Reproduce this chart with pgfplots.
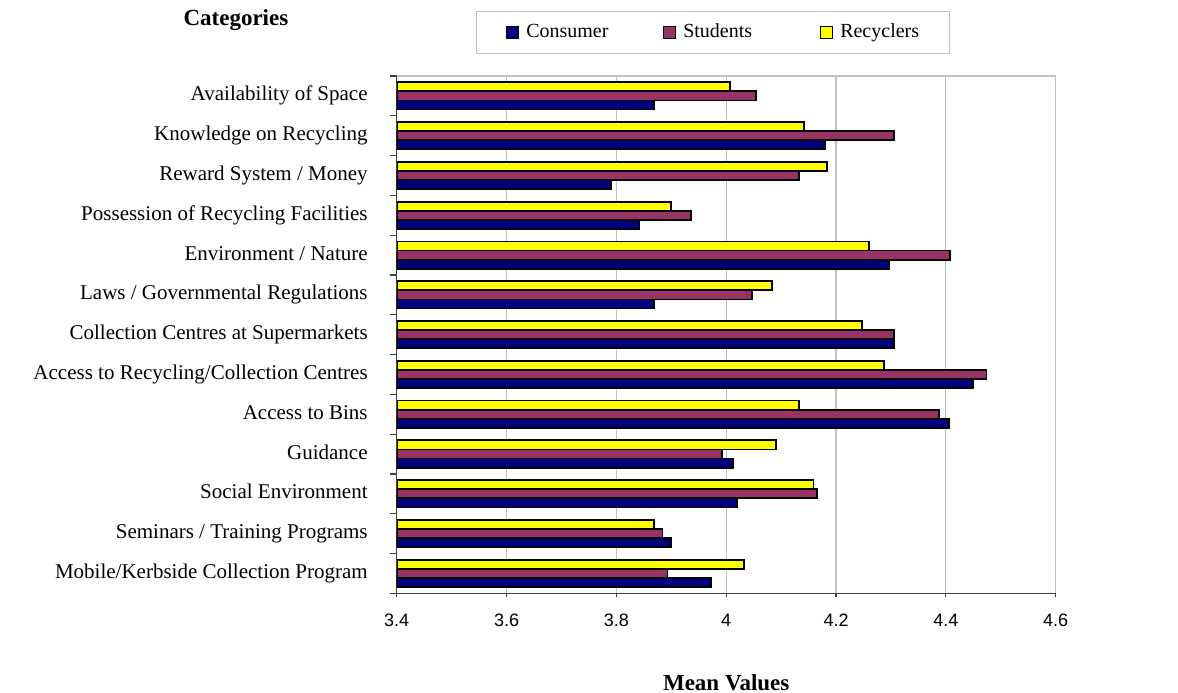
\documentclass[border=0pt]{standalone}
\usepackage{fontspec}
\setmainfont{Liberation Serif}
\newfontfamily\arial{Liberation Sans}
\usepackage{pgfplots}
\usepackage{pgfplotstable}
\pgfplotsset{compat=1.18}

\definecolor{consumer}{HTML}{000080}
\definecolor{students}{HTML}{993366}
\definecolor{recyclers}{HTML}{FFFF00}
\definecolor{gridgray}{HTML}{C0C0C0}
\definecolor{axisgray}{HTML}{404040}

% y = 0 is the bottom category (Mobile/Kerbside), 12 the top one
\pgfplotstableread{
y   con    stu    rec
0   3.972  3.893  4.032
1   3.899  3.884  3.869
2   4.020  4.165  4.159
3   4.012  3.993  4.090
4   4.405  4.387  4.132
5   4.450  4.474  4.287
6   4.305  4.305  4.247
7   3.869  4.047  4.084
8   4.296  4.407  4.260
9   3.842  3.936  3.899
10  3.790  4.132  4.183
11  4.180  4.305  4.141
12  3.869  4.054  4.007
}\motiv

\begin{document}
\begin{tikzpicture}
\path[use as bounding box] (0,0) rectangle (589pt,346pt);
\begin{axis}[
  at={(198.35pt,49.35pt)}, anchor=south west,
  scale only axis, width=329.5pt, height=258.65pt,
  xbar, bar width=0.2286,
  xmin=3.4, xmax=4.6, ymin=-0.5, ymax=12.5,
  xtick={3.4,3.6,3.8,4.0,4.2,4.4,4.6},
  /pgf/number format/assume math mode=true,
  xticklabel style={font=\arial\fontsize{9}{10}\selectfont, yshift=-5pt},
  xmajorgrids, major grid style={gridgray, line width=0.6pt},
  axis x line*=bottom, axis y line*=left,
  axis line style={axisgray, line width=0.7pt},
  tick align=outside, major tick length=2pt, minor tick length=3.5pt,
  every major x tick/.append style={axisgray, line width=0.6pt},
  every major y tick/.append style={draw=none},
  every minor y tick/.append style={axisgray, line width=0.6pt},
  ytick={0,...,12},
  minor ytick={-0.5,0.5,...,12.5},
  yticklabel style={font=\fontsize{10.5}{12}\selectfont, xshift=-9pt,
    text height=7pt, text depth=2pt},
  yticklabels={
    {Mobile/Kerbside Collection Program\hspace{6pt}},
    {Seminars / Training Programs\hspace{8pt}},
    {Social Environment},
    {Guidance},
    {Access to Bins},
    {Access to Recycling/Collection Centres\hspace{11pt}},
    {Collection Centres at Supermarkets\hspace{11.5pt}},
    {Laws / Governmental Regulations\hspace{10pt}},
    {Environment / Nature},
    {Possession of Recycling Facilities\hspace{8pt}},
    {Reward System / Money\hspace{12pt}},
    {Knowledge on Recycling\hspace{3pt}},
    {Availability of Space\hspace{2pt}}},
  extra y ticks={12.5}, extra y tick labels={},
  extra y tick style={grid=major},
  xlabel={Mean Values},
  xlabel style={at={(axis description cs:0.5,-0.172)}, anchor=center,
    font=\bfseries\fontsize{11.5}{13}\selectfont},
  ylabel={Categories},
  ylabel style={rotate=-90, at={(axis description cs:-0.244,1.108)}, anchor=center,
    font=\bfseries\fontsize{11.5}{13}\selectfont},
  legend columns=3,
  legend image code/.code={\draw[#1, draw=black, line width=0.5pt] (0pt,-3pt) rectangle (6pt,3pt);},
  legend style={at={(axis description cs:0.120,1.1263)}, anchor=north west,
    draw=gridgray, line width=0.5pt, font=\fontsize{10}{12}\selectfont,
    inner xsep=15pt, inner ysep=6pt,
    nodes={inner sep=0pt, text height=7pt, text depth=2pt},
    /tikz/every odd column/.append style={column sep=3.5pt}},
]
\addplot[fill=consumer, draw=black, line width=0.9pt, bar shift=-0.2286]
  table[x=con, y=y] {\motiv};
\addplot[fill=students, draw=black, line width=0.9pt, bar shift=0]
  table[x=stu, y=y] {\motiv};
\addplot[fill=recyclers, draw=black, line width=0.9pt, bar shift=0.2286]
  table[x=rec, y=y] {\motiv};
\legend{\makebox[68.5pt][l]{Consumer}, \makebox[68.5pt][l]{Students}, Recyclers\hspace{4pt}}
\end{axis}
\end{tikzpicture}
\end{document}
